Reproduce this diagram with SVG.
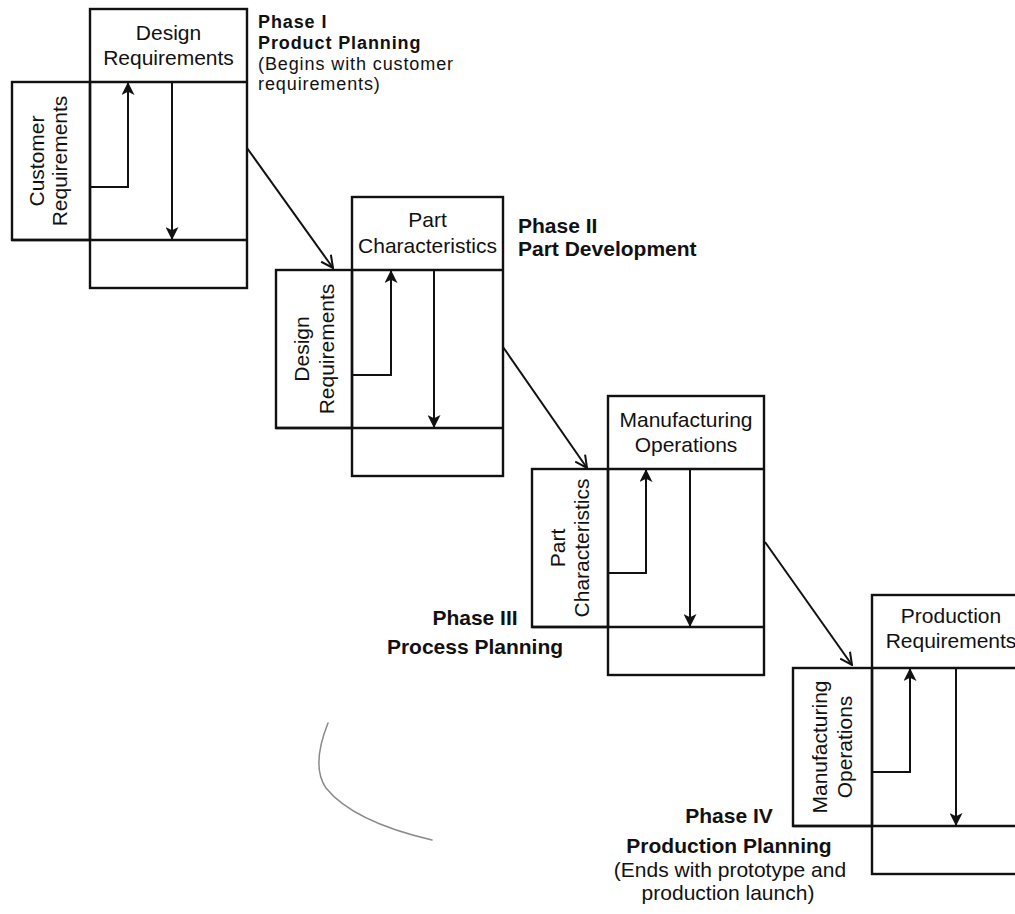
<svg xmlns="http://www.w3.org/2000/svg" width="1015" height="914" viewBox="0 0 1015 914">
  <style>
    .box { fill: none; stroke: #111; stroke-width: 2.4; }
    .rule { stroke: #111; stroke-width: 2.4; fill: none; }
    .flow { stroke: #111; stroke-width: 2; fill: none; }
    .link { stroke: #111; stroke-width: 2; fill: none; }
    text { font-family: "Liberation Sans", Arial, sans-serif; font-size: 21px; fill: #111; }
    .mid { text-anchor: middle; }
    .bold { font-weight: bold; }
    .tight { font-size: 18px; letter-spacing: 0.9px; }
  </style>
  <defs>
    <marker id="headFill" viewBox="0 0 12 12" markerUnits="userSpaceOnUse" markerWidth="13" markerHeight="13" refX="12" refY="6" orient="auto">
      <path d="M0,0 L12,6 L0,12 L3,6 z" fill="#111"/>
    </marker>
    <marker id="headOpen" viewBox="0 0 14 14" markerUnits="userSpaceOnUse" markerWidth="14" markerHeight="14" refX="13" refY="7" orient="auto">
      <path d="M1,1 L13,7 L1,13" fill="none" stroke="#111" stroke-width="2"/>
    </marker>
  </defs>
  <rect width="1015" height="914" fill="#ffffff"/>

  <!-- Phase I: Product Planning -->
  <g id="phase1">
    <g id="p1-top">
      <rect class="box" x="90" y="9" width="157" height="279"/>
      <text class="mid" x="168.5" y="40">Design</text>
      <text class="mid" x="168.5" y="65">Requirements</text>
    </g>
    <g id="p1-left">
      <rect class="box" x="12" y="82" width="78" height="158"/>
      <g transform="translate(51,161) rotate(-90)">
        <text class="mid" x="0" y="-7">Customer</text>
        <text class="mid" x="0" y="16">Requirements</text>
      </g>
    </g>
    <g id="p1-matrix">
      <line class="rule" x1="90" y1="82" x2="247" y2="82"/>
      <line class="rule" x1="12" y1="240" x2="247" y2="240"/>
      <path class="flow" d="M90,187 H128 V82" marker-end="url(#headFill)"/>
      <line class="flow" x1="172" y1="82" x2="172" y2="240" marker-end="url(#headFill)"/>
    </g>
    <g id="p1-label">
      <text class="bold tight" x="258" y="28">Phase I</text>
      <text class="bold tight" x="258" y="49">Product Planning</text>
      <text class="tight" x="258" y="70">(Begins with customer</text>
      <text class="tight" x="258" y="90">requirements)</text>
    </g>
  </g>

  <!-- Phase II: Part Development -->
  <g id="phase2">
    <g id="p2-top">
      <rect class="box" x="352" y="197" width="151" height="279"/>
      <text class="mid" x="427.5" y="227">Part</text>
      <text class="mid" x="427.5" y="253">Characteristics</text>
    </g>
    <g id="p2-left">
      <rect class="box" x="276" y="270" width="76" height="158"/>
      <g transform="translate(314,349) rotate(-90)">
        <text class="mid" x="0" y="-5">Design</text>
        <text class="mid" x="0" y="20">Requirements</text>
      </g>
    </g>
    <g id="p2-matrix">
      <line class="rule" x1="352" y1="270" x2="503" y2="270"/>
      <line class="rule" x1="276" y1="428" x2="503" y2="428"/>
      <path class="flow" d="M352,375 H391 V270" marker-end="url(#headFill)"/>
      <line class="flow" x1="434" y1="270" x2="434" y2="428" marker-end="url(#headFill)"/>
    </g>
    <g id="p2-label">
      <text class="bold" x="518" y="233">Phase II</text>
      <text class="bold" x="518" y="256">Part Development</text>
    </g>
  </g>

  <!-- Phase III: Process Planning -->
  <g id="phase3">
    <g id="p3-top">
      <rect class="box" x="608" y="396" width="156" height="279"/>
      <text class="mid" x="686" y="427">Manufacturing</text>
      <text class="mid" x="686" y="452">Operations</text>
    </g>
    <g id="p3-left">
      <rect class="box" x="532" y="469" width="76" height="158"/>
      <g transform="translate(570,548) rotate(-90)">
        <text class="mid" x="0" y="-5">Part</text>
        <text class="mid" x="0" y="19">Characteristics</text>
      </g>
    </g>
    <g id="p3-matrix">
      <line class="rule" x1="608" y1="469" x2="764" y2="469"/>
      <line class="rule" x1="532" y1="627" x2="764" y2="627"/>
      <path class="flow" d="M608,573 H646 V469" marker-end="url(#headFill)"/>
      <line class="flow" x1="690" y1="469" x2="690" y2="627" marker-end="url(#headFill)"/>
    </g>
    <g id="p3-label">
      <text class="bold mid" x="475" y="625">Phase III</text>
      <text class="bold mid" x="475" y="654">Process Planning</text>
    </g>
  </g>

  <!-- Phase IV: Production Planning -->
  <g id="phase4">
    <g id="p4-top">
      <rect class="box" x="872" y="595" width="156" height="279"/>
      <text class="mid" x="951" y="623">Production</text>
      <text class="mid" x="951" y="648">Requirements</text>
    </g>
    <g id="p4-left">
      <rect class="box" x="793" y="668" width="79" height="158"/>
      <g transform="translate(832,747) rotate(-90)">
        <text class="mid" x="0" y="-5">Manufacturing</text>
        <text class="mid" x="0" y="20">Operations</text>
      </g>
    </g>
    <g id="p4-matrix">
      <line class="rule" x1="872" y1="668" x2="1015" y2="668"/>
      <line class="rule" x1="793" y1="826" x2="1015" y2="826"/>
      <path class="flow" d="M872,772 H910 V668" marker-end="url(#headFill)"/>
      <line class="flow" x1="956" y1="668" x2="956" y2="826" marker-end="url(#headFill)"/>
    </g>
    <g id="p4-label">
      <text class="bold mid" x="729" y="823">Phase IV</text>
      <text class="bold mid" x="729" y="853">Production Planning</text>
      <text class="mid" x="730" y="877">(Ends with prototype and</text>
      <text class="mid" x="728" y="900">production launch)</text>
    </g>
  </g>

  <!-- Hand-off arrows between phases -->
  <g id="connectors">
    <line class="link" x1="247" y1="148" x2="333" y2="268" marker-end="url(#headOpen)"/>
    <line class="link" x1="503" y1="347" x2="587" y2="468" marker-end="url(#headOpen)"/>
    <line class="link" x1="765" y1="542" x2="852" y2="665" marker-end="url(#headOpen)"/>
  </g>

  <!-- faint pencil stroke on the sheet -->
  <path d="M328,723 C318,748 315,772 326,788 C342,808 372,826 432,840" fill="none" stroke="#8a8a8a" stroke-width="1.5" stroke-linecap="round"/>
</svg>
